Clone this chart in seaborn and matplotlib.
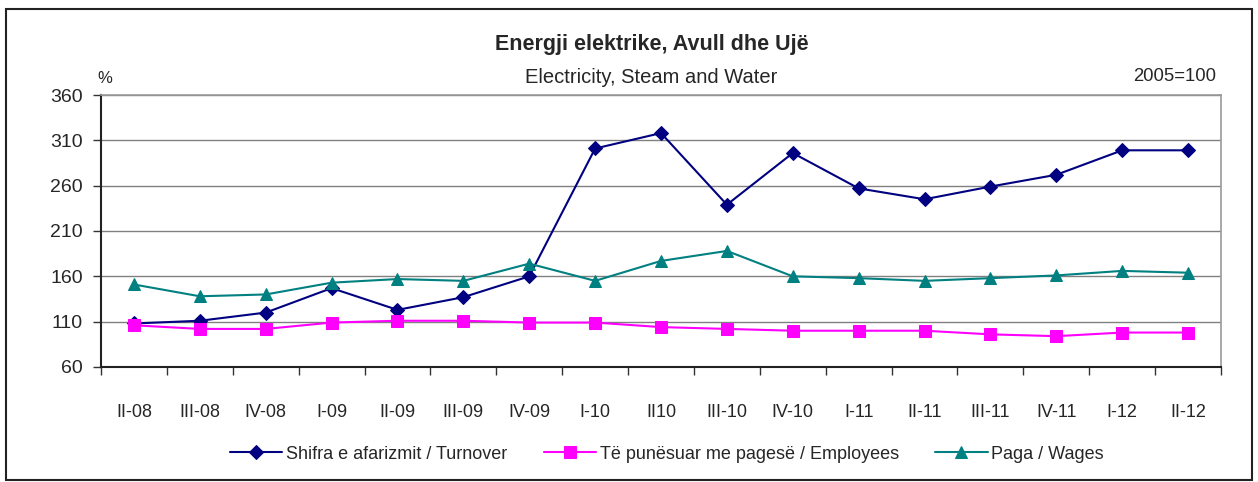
import matplotlib
matplotlib.use("Agg")
import matplotlib.pyplot as plt
import seaborn as sns
import pandas as pd
from matplotlib.patches import Rectangle
from matplotlib.ticker import FixedLocator, NullFormatter

categories = ["II-08", "III-08", "IV-08", "I-09", "II-09", "III-09", "IV-09", "I-10",
              "II10", "III-10", "IV-10", "I-11", "II-11", "III-11", "IV-11", "I-12", "II-12"]
turnover = [108, 111, 120, 147, 123, 137, 160, 301, 318, 239, 296, 257, 245, 259, 272, 299, 299]
employees = [106, 102, 102, 109, 111, 111, 109, 109, 104, 102, 100, 100, 100, 96, 94, 98, 98]
wages = [151, 138, 140, 153, 157, 155, 174, 155, 177, 188, 160, 158, 155, 158, 161, 166, 164]

series_names = ["Shifra e afarizmit / Turnover", "Të punësuar me pagesë / Employees", "Paga / Wages"]
series_values = [turnover, employees, wages]
colors = ["#000080", "#FF00FF", "#008080"]
markers = ["D", "s", "^"]
msizes = [7, 9, 9]

rows = []
for name, vals in zip(series_names, series_values):
    for c, v in zip(categories, vals):
        rows.append({"period": c, "value": v, "series": name})
df = pd.DataFrame(rows)

sns.set_theme(style="white")
plt.rcParams["font.family"] = ["Liberation Sans", "DejaVu Sans"]

fig = plt.figure(figsize=(12.58, 4.82), dpi=100)
ax = fig.add_axes([0.0803, 0.2386, 0.8903, 0.5643])

for name, col, mk, ms in zip(series_names, colors, markers, msizes):
    sub = df[df["series"] == name]
    sns.lineplot(data=sub, x="period", y="value", ax=ax, color=col, marker=mk,
                 markersize=ms, markeredgecolor=col, linewidth=1.5, label=name, sort=False)

ax.set_ylim(60, 360)
ax.set_yticks([60, 110, 160, 210, 260, 310, 360])
ax.set_xlim(-0.5, len(categories) - 0.5)
ax.set_xticks(range(len(categories)))
ax.set_xticklabels(categories)
ax.xaxis.set_minor_locator(FixedLocator([i - 0.5 for i in range(len(categories) + 1)]))
ax.xaxis.set_minor_formatter(NullFormatter())
ax.tick_params(axis="x", which="major", length=0, pad=27, labelsize=13)
ax.tick_params(axis="x", which="minor", length=6, width=1, color="#333333", direction="out", bottom=True)
ax.tick_params(axis="y", which="major", length=6, width=1, color="#333333", direction="out", left=True, labelsize=14, pad=7)
ax.set_xlabel("")
ax.set_ylabel("")
ax.grid(axis="y", color="#808080", linewidth=1)
ax.set_axisbelow(True)
for s in ["top", "right"]:
    ax.spines[s].set_color("#999999")
    ax.spines[s].set_linewidth(1.2)
for s in ["left", "bottom"]:
    ax.spines[s].set_color("#222222")
    ax.spines[s].set_linewidth(1.5)

handles, labels = ax.get_legend_handles_labels()
ax.get_legend().remove()
fig.legend(handles, labels, loc="center", bbox_to_anchor=(667 / 1258, 0.058), ncol=3, frameon=False,
           fontsize=13, handlelength=2.9, columnspacing=2.0, handletextpad=0.22, borderaxespad=0)

fig.text(0.518, 0.908, "Energji elektrike, Avull dhe Ujë", ha="center", va="center",
         fontsize=15.5, fontweight="bold")
fig.text(0.5175, 0.840, "Electricity, Steam and Water", ha="center", va="center", fontsize=14.5)
fig.text(0.0835, 0.838, "%", ha="center", va="center", fontsize=12)
fig.text(0.9666, 0.841, "2005=100", ha="right", va="center", fontsize=13.3)

fig.patches.append(Rectangle((0.0045, 0.004), 0.991, 0.978, transform=fig.transFigure,
                             fill=False, edgecolor="#222222", linewidth=1.5))

fig.savefig("out.png", dpi=100)
